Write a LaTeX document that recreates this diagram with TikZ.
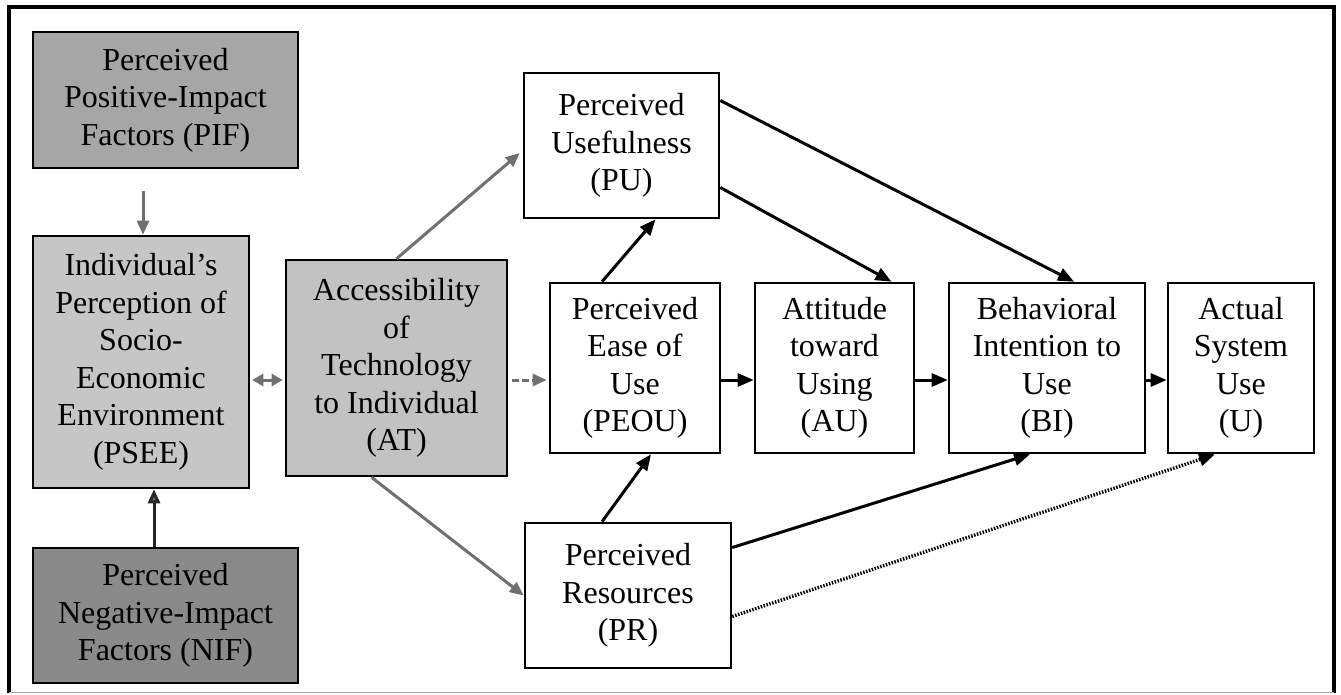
\documentclass[tikz,border=0pt]{standalone}
\usepackage{fontspec}
\setmainfont{Liberation Serif}
\usetikzlibrary{arrows.meta}
\definecolor{pifgray}{HTML}{A6A6A6}
\definecolor{pseegray}{HTML}{C6C6C6}
\definecolor{atgray}{HTML}{C2C2C2}
\definecolor{nifgray}{HTML}{8A8A8A}
\definecolor{linkgray}{HTML}{707070}
\begin{document}
\begin{tikzpicture}[x=1pt,y=-1pt,
  box/.style={draw=black,line width=2.6pt,align=center,inner sep=0pt,
    font=\fontsize{32}{37.5}\selectfont},
  link/.style={line width=3pt,-{Triangle[length=16pt,width=13pt]}},
  glink/.style={line width=3pt,draw=linkgray,-{Triangle[length=14pt,width=12pt,fill=linkgray]}},
  dotlink/.style={line width=3.4pt,dash pattern=on 1.5pt off 1.5pt,
    -{Triangle[length=16pt,width=13pt,fill=black]}}]
\useasboundingbox (0,0) rectangle (1341,695);
% outer frame
\draw[line width=3.5pt] (9,693) -- (9,7) -- (1334,7) -- (1334,693);
\draw[line width=1pt,gray!70] (9,692) -- (1334,692);

% environment factors
\node[box,fill=pifgray,minimum width=265pt,minimum height=136pt] (PIF) at (165.5,100)
  {Perceived\\Positive-Impact\\Factors (PIF)};
\node[box,fill=pseegray,minimum width=216pt,minimum height=252pt] (PSEE) at (141,362)
  {Individual's\\Perception of\\Socio-\\Economic\\Environment\\(PSEE)};
\node[box,fill=nifgray,minimum width=265pt,minimum height=135pt] (NIF) at (165.5,615.5)
  {Perceived\\Negative-Impact\\Factors (NIF)};
\node[box,fill=atgray,minimum width=221pt,minimum height=216pt] (AT) at (396.5,368)
  {Accessibility\\of\\Technology\\to Individual\\(AT)};

% TAM constructs
\node[box,minimum width=195pt,minimum height=145pt] (PU) at (621.5,145.5)
  {Perceived\\Usefulness\\(PU)};
\node[box,minimum width=170pt,minimum height=170pt] (PEOU) at (635,368)
  {Perceived\\Ease of\\Use\\(PEOU)};
\node[box,minimum width=159pt,minimum height=170pt] (AU) at (834.5,368)
  {Attitude\\toward\\Using\\(AU)};
\node[box,minimum width=196pt,minimum height=170pt] (BI) at (1047,368)
  {Behavioral\\Intention to\\Use\\(BI)};
\node[box,minimum width=146pt,minimum height=170pt] (U) at (1241,368)
  {Actual\\System\\Use\\(U)};
\node[box,minimum width=206pt,minimum height=145pt] (PR) at (628,595.5)
  {Perceived\\Resources\\(PR)};

\coordinate (row) at (0,380);
\coordinate (pifx) at (143,0);
\coordinate (nifx) at (154,0);

% gray links from the environment side
\draw[glink,shorten <=22pt] (PIF.south -| pifx) -- (PSEE.north -| pifx);
\draw[line width=3pt,draw=black!85,-{Triangle[length=14pt,width=12pt,fill=linkgray]}] (NIF.north -| nifx) -- (PSEE.south -| nifx);
\draw[line width=3pt,draw=linkgray,{Triangle[length=11pt,width=12pt,fill=linkgray]}-{Triangle[length=11pt,width=12pt,fill=linkgray]},shorten <=2pt,shorten >=2pt]
  (PSEE.east |- row) -- (AT.west |- row);
\draw[glink,dash pattern=on 7pt off 3pt,shorten <=4pt,shorten >=2pt] (AT.east |- row) -- (PEOU.west |- row);
\draw[glink,shorten >=4pt] (AT.north) -- ([yshift=-5pt]PU.west);
\draw[glink] ([xshift=-25pt]AT.south) -- (PR.west);

% TAM links
\draw[link] ([xshift=-33pt]PEOU.north) -- ([xshift=34pt]PU.south);
\draw[link] ([yshift=-42pt]PU.east) -- ([xshift=57pt]AU.north);
\draw[link] ([yshift=45pt]PU.east) -- ([xshift=27pt]BI.north);
\draw[link] (PEOU.east |- row) -- (AU.west |- row);
\draw[link] (AU.east |- row) -- (BI.west |- row);
\draw[link] (BI.east |- row) -- (U.west |- row);
\draw[link] ([xshift=-26pt]PR.north) -- ([xshift=16pt]PEOU.south);
\draw[link] ([yshift=48pt]PR.east) -- ([xshift=-17pt]BI.south);
\draw[dotlink] ([yshift=-21pt]PR.east) -- ([xshift=-26pt]U.south);
\end{tikzpicture}
\end{document}
